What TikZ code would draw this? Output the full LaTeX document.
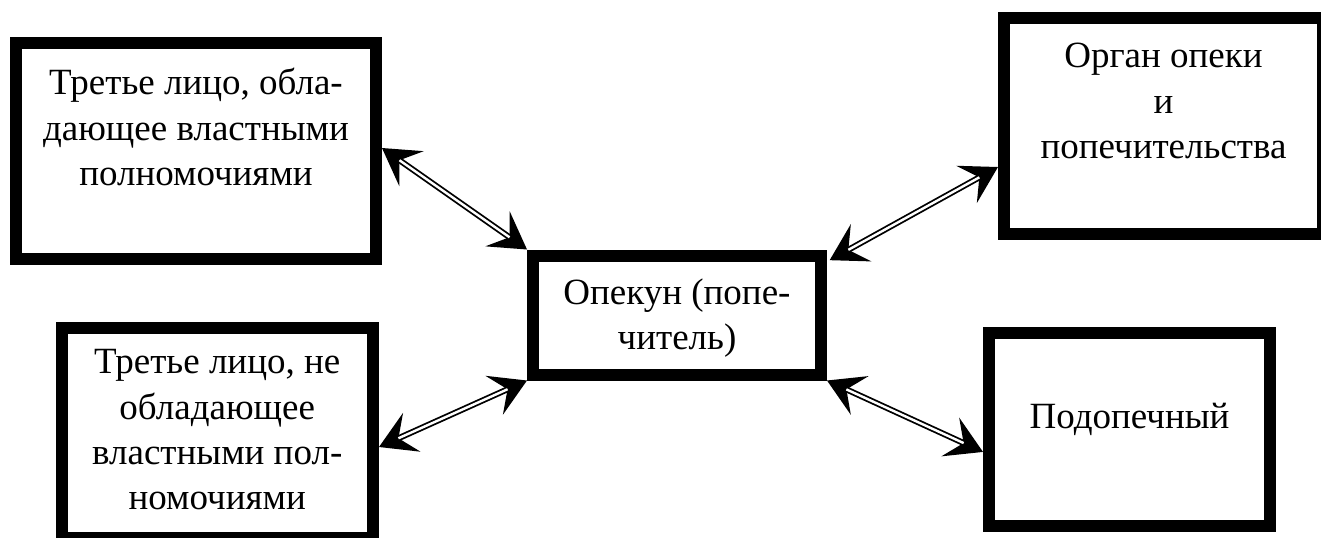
\documentclass[tikz,border=0pt]{standalone}
\usepackage{fontspec}
\setmainfont{Liberation Serif}
\usetikzlibrary{arrows.meta,calc}
\tikzset{
  box/.style={draw=black, line width=9pt, rectangle, inner sep=0pt, fill=white},
  label/.style={align=center, inner sep=0pt, font=\fontsize{27.75pt}{34pt}\selectfont},
  tip/.tip={Stealth[length=27pt,width=32pt,inset=11pt,line width=0pt]},
  link/.style={draw=black, line width=4.5pt, {tip}-{tip}},
  linkin/.style={draw=white, line width=1.8pt, shorten <=16pt, shorten >=16pt}
}
\begin{document}
\begin{tikzpicture}[x=0.75pt,y=-0.75pt]
\useasboundingbox (0,0) rectangle (1321,537);
% boxes
\node[box, minimum width=270pt, minimum height=162pt] (b1) at (196,151) {};
\node[box, minimum width=239.25pt, minimum height=162pt] (b2) at (1163.5,126) {};
\node[box, minimum width=216pt, minimum height=89.25pt] (c) at (677,315) {};
\node[box, minimum width=233.6pt, minimum height=157.5pt] (b3) at (217.25,433) {};
\node[box, minimum width=210.75pt, minimum height=144.4pt] (b4) at (1129.5,429.25) {};
% texts
\node[label] (t1) at (196,127) {Третье лицо, обла-\\дающее властными\\полномочиями};
\node[label] (t2) at (1163.5,101) {Орган опеки\\и\\попечительства};
\node[label] (tc) at (677,318) {Опекун (попе-\\читель)};
\node[label] (t3) at (217.25,430) {Третье лицо, не\\обладающее\\властными пол-\\номочиями};
\node[label, anchor=base] (t4) at (1129.5,428) {Подопечный};
% connectors
\coordinate (a1s) at ([yshift=2.25pt]b1.east);
\coordinate (a1e) at (c.north west);
\coordinate (a2s) at ([shift={(2pt,-8pt)}]c.north east);
\coordinate (a2e) at ([yshift=-30.75pt]b2.west);
\coordinate (a3s) at (c.south west);
\coordinate (a3e) at ([yshift=-10.5pt]b3.east);
\coordinate (a4s) at (c.south east);
\coordinate (a4e) at ([yshift=-17pt]b4.west);
\foreach \s/\e in {a1s/a1e,a2s/a2e,a3s/a3e,a4s/a4e}{
  \draw[link] (\s) -- (\e);
  \draw[linkin] (\s) -- (\e);
}
\end{tikzpicture}
\end{document}
